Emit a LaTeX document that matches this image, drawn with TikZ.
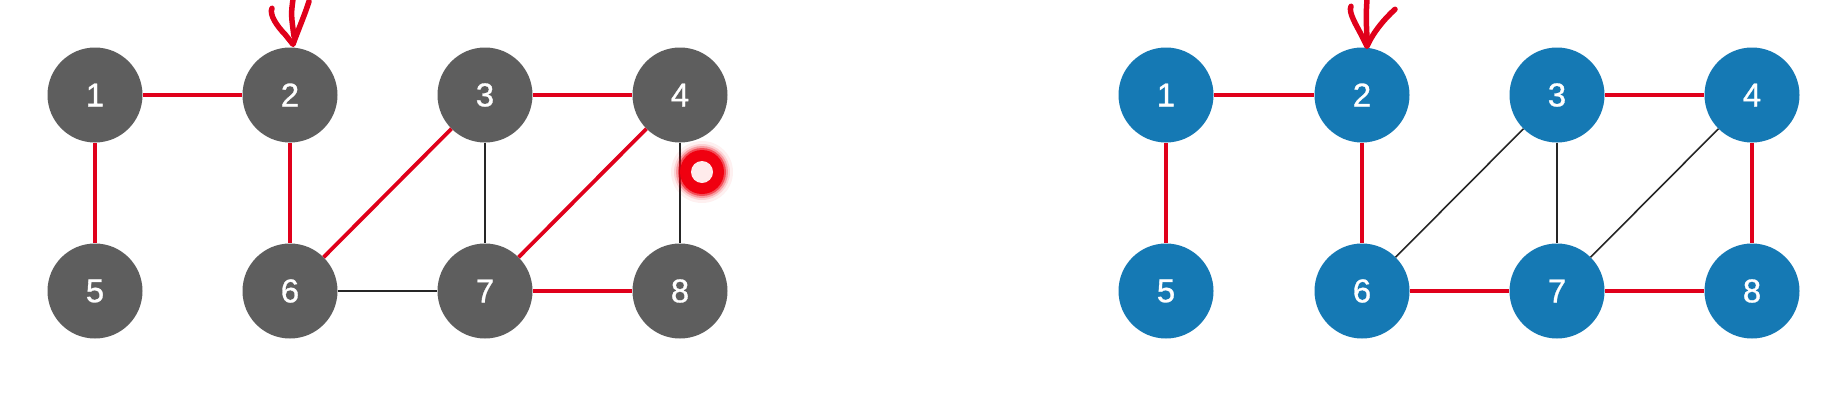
\documentclass[tikz,border=0pt]{standalone}
\usepackage{fontspec}
\setmainfont{Liberation Sans}
\newfontfamily\numfont[FakeBold=0.9]{Liberation Sans}
\begin{document}
\begin{tikzpicture}[x=1pt,y=-1pt,
  grnode/.style={circle,fill=nodegrey,draw=none,minimum size=95pt,inner sep=0pt,text=white,font=\numfont\fontsize{33}{33}\selectfont},
  blnode/.style={circle,fill=nodeblue,draw=none,minimum size=95pt,inner sep=0pt,text=white,font=\numfont\fontsize{33}{33}\selectfont},
  redge/.style={draw=edgered,line width=3.8pt},
  bedge/.style={draw=black!85,line width=1.6pt},
  pen/.style={draw=edgered,line width=5.5pt,line cap=round,line join=round}]
\definecolor{nodegrey}{HTML}{5E5E5E}
\definecolor{nodeblue}{HTML}{1579B4}
\definecolor{edgered}{HTML}{E0001B}
\definecolor{dotred}{HTML}{F00010}
\useasboundingbox (0,0) rectangle (1836,416);
\fill[white] (0,0) rectangle (1836,416);
% left graph
\node[grnode] (a1) at (95,95) {1};
\node[grnode] (a2) at (290,95) {2};
\node[grnode] (a3) at (485,95) {3};
\node[grnode] (a4) at (680,95) {4};
\node[grnode] (a5) at (95,291) {5};
\node[grnode] (a6) at (290,291) {6};
\node[grnode] (a7) at (485,291) {7};
\node[grnode] (a8) at (680,291) {8};
% right graph
\node[blnode] (b1) at (1166,95) {1};
\node[blnode] (b2) at (1362,95) {2};
\node[blnode] (b3) at (1557,95) {3};
\node[blnode] (b4) at (1752,95) {4};
\node[blnode] (b5) at (1166,291) {5};
\node[blnode] (b6) at (1362,291) {6};
\node[blnode] (b7) at (1557,291) {7};
\node[blnode] (b8) at (1752,291) {8};
% left edges
\draw[redge] (a1) -- (a2);
\draw[redge] (a1) -- (a5);
\draw[redge] (a2) -- (a6);
\draw[redge] (a3) -- (a4);
\draw[redge] (a3) -- (a6);
\draw[redge] (a4) -- (a7);
\draw[redge] (a7) -- (a8);
\draw[bedge] (a3) -- (a7);
\draw[bedge] (a6) -- (a7);
\draw[bedge] (a4) -- (a8);
% right edges
\draw[redge] (b1) -- (b2);
\draw[redge] (b1) -- (b5);
\draw[redge] (b2) -- (b6);
\draw[redge] (b3) -- (b4);
\draw[redge] (b4) -- (b8);
\draw[redge] (b6) -- (b7);
\draw[redge] (b7) -- (b8);
\draw[bedge] (b3) -- (b6);
\draw[bedge] (b3) -- (b7);
\draw[bedge] (b4) -- (b7);
% hand-drawn arrows
\coordinate (ta) at ([shift={(3,-3)}]a2.north);
\draw[pen] ([shift={(-21,-36)}]ta) .. controls ([shift={(-24,-30)}]ta) and ([shift={(-16,-18)}]ta) .. ([shift={(-8,-10)}]ta) -- (ta)
  .. controls ([shift={(5,-14)}]ta) and ([shift={(12,-30)}]ta) .. ([shift={(16,-43)}]ta);
\draw[pen] ([shift={(0,-45)}]ta) .. controls ([shift={(-2,-30)}]ta) .. ([shift={(1,-8)}]ta);
\coordinate (tb) at ([shift={(5,-1)}]b2.north);
\draw[pen] ([shift={(-16,-40)}]tb) .. controls ([shift={(-19,-34)}]tb) and ([shift={(-10,-20)}]tb) .. ([shift={(-6,-12)}]tb) -- (tb)
  .. controls ([shift={(6,-14)}]tb) and ([shift={(18,-28)}]tb) .. ([shift={(28,-37)}]tb);
\draw[pen] ([shift={(0,-47)}]tb) .. controls ([shift={(-1,-30)}]tb) .. ([shift={(0,-8)}]tb);
% red pointer dot
\coordinate (dot) at (702,172);
\foreach \r/\o in {31/0.06,28/0.12,26/0.25,24/0.5} \fill[dotred,opacity=\o] (dot) circle (\r);
\fill[dotred] (dot) circle (22);
\fill[white!92!red] (dot) circle (11);
\end{tikzpicture}
\end{document}
